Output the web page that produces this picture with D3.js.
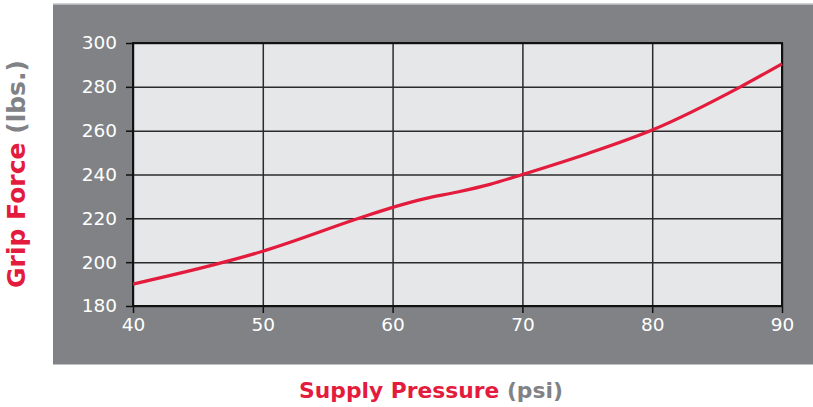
<!DOCTYPE html>
<html><head><meta charset="utf-8">
<script src="https://cdn.jsdelivr.net/npm/d3@7"></script>
<style>body{margin:0;background:#fff}svg{display:block}</style>
</head><body>
<script>
const pressure = [40, 47, 50, 57.4, 60, 62.5, 65, 67.5, 70, 75, 80, 86.8, 90];
const gripForce = [190, 200, 205, 220, 225, 229, 232, 235.5, 240, 249.5, 260.3, 280, 290.5];
const xTicks = [40, 50, 60, 70, 80, 90];
const yTicks = [180, 200, 220, 240, 260, 280, 300];

const W = 813, H = 407;
const svg = d3.select("body").append("svg").attr("width", W).attr("height", H);
const red = "#e31b3d", grey = "#808285";

svg.append("rect").attr("x", 53).attr("y", 3).attr("width", W - 53).attr("height", 1.5).attr("fill", "#d2d3d5");
svg.append("rect").attr("x", 53).attr("y", 4.5).attr("width", W - 53).attr("height", 360).attr("fill", grey);

const L = 133, R = 782, T = 43, B = 306;
const x = d3.scaleLinear().domain([40, 90]).range([L, R]);
const y = d3.scaleLinear().domain([180, 300]).range([B, T]);

svg.append("rect").attr("x", L).attr("y", T).attr("width", R - L).attr("height", B - T).attr("fill", "#e6e7e8");

const gx = svg.append("g").attr("transform", `translate(0,${B})`)
  .call(d3.axisBottom(x).tickValues(xTicks).tickSize(-(B - T) ).tickPadding(12).tickFormat(d3.format("d")));
const gy = svg.append("g").attr("transform", `translate(${L},0)`)
  .call(d3.axisLeft(y).tickValues(yTicks).tickSize(-(R - L)).tickPadding(16).tickFormat(d3.format("d")));
[gx, gy].forEach(g => {
  g.select(".domain").remove();
  g.selectAll(".tick line").attr("stroke", "#2b2b2b").attr("stroke-width", 1.5);
  g.selectAll(".tick text").attr("fill", "#fff").style("font-size", "18.5px").style("font-family", "'DejaVu Sans', sans-serif");
});
// outer tick stubs
gx.selectAll(".tick").append("line").attr("y1", 0).attr("y2", 7).attr("stroke", "#111").attr("stroke-width", 1.5);
gy.selectAll(".tick").append("line").attr("x1", 0).attr("x2", -7).attr("stroke", "#111").attr("stroke-width", 1.5);

svg.append("rect").attr("x", L).attr("y", T).attr("width", R - L).attr("height", B - T)
  .attr("fill", "none").attr("stroke", "#111").attr("stroke-width", 2);

const line = d3.line().x((d, i) => x(pressure[i])).y(d => y(d)).curve(d3.curveMonotoneX);
svg.append("path").attr("d", line(gripForce)).attr("fill", "none").attr("stroke", red).attr("stroke-width", 3.2);

// axis titles
const xt = svg.append("text").attr("x", 431).attr("y", 398).attr("text-anchor", "middle")
  .style("font-family", "'DejaVu Sans', sans-serif").style("font-size", "20px").style("font-weight", "bold");
xt.append("tspan").attr("fill", red).text("Supply Pressure ");
xt.append("tspan").attr("fill", grey).text("(psi)");

const yt = svg.append("text").attr("transform", "translate(25,174) rotate(-90)").attr("text-anchor", "middle")
  .style("font-family", "'DejaVu Sans', sans-serif").style("font-size", "20px").style("font-weight", "bold");
yt.append("tspan").attr("fill", red).text("Grip Force ");
yt.append("tspan").attr("fill", grey).text("(lbs.)");

function fit(t, w) { const l = t.node().getComputedTextLength(); t.style("font-size", (20 * w / l) + "px"); }
fit(xt, 264); fit(yt, 228);
</script>
</body></html>
